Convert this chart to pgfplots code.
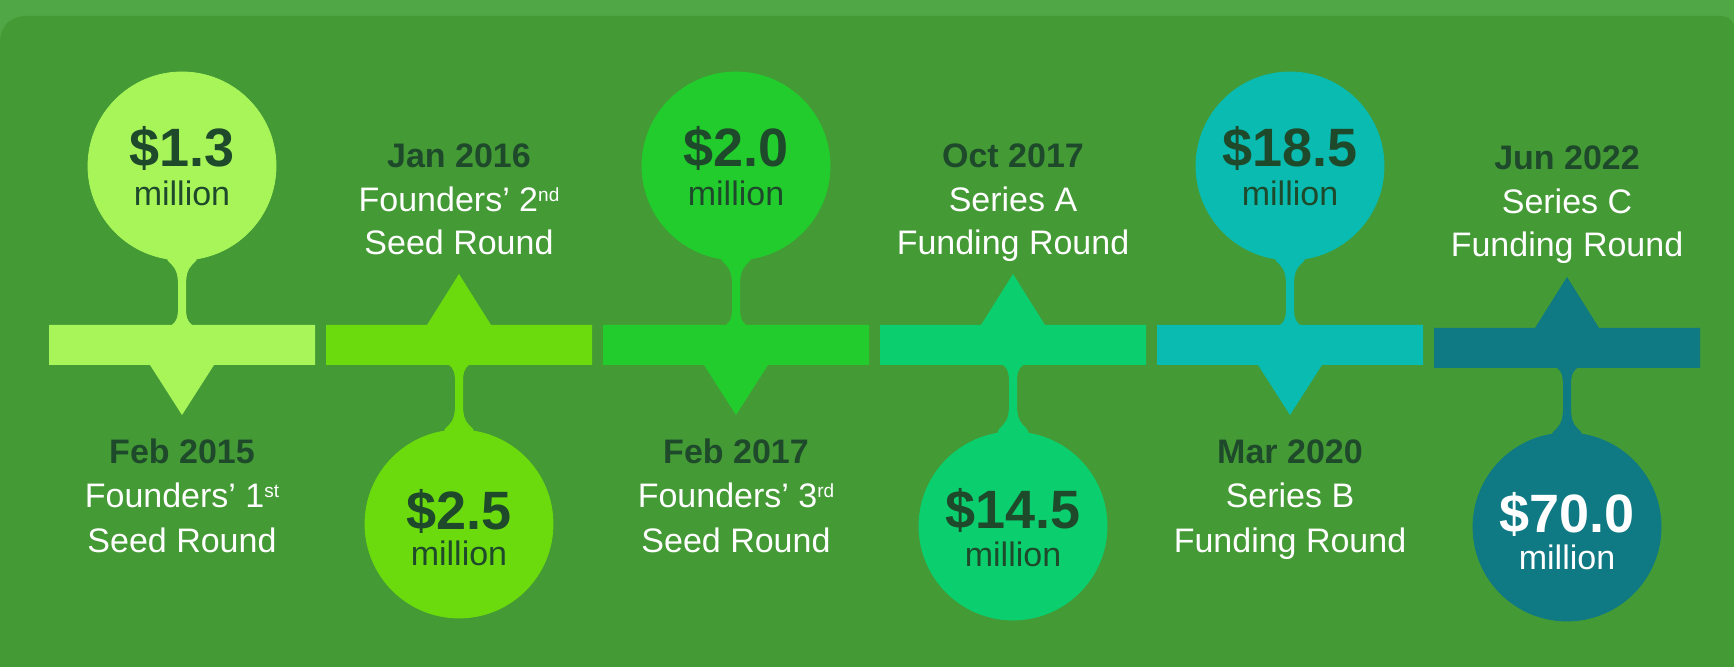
\documentclass[border=0pt]{standalone}
\usepackage{pgfplots}
\pgfplotsset{compat=1.18}
\usepackage{pgfplotstable}
\usepackage{fontspec}
\setmainfont{Liberation Sans}

\definecolor{outer}{HTML}{50A745}
\definecolor{panel}{HTML}{449A35}
\definecolor{dark}{HTML}{1E4A2B}
\definecolor{c1}{HTML}{A8F55A}
\definecolor{c2}{HTML}{6CDB0E}
\definecolor{c3}{HTML}{22CC2D}
\definecolor{c4}{HTML}{0BCF6E}
\definecolor{c5}{HTML}{09BBB1}
\definecolor{c6}{HTML}{0F7A84}

% neck between bubble and bar, offsets from the bubble centre line (px)
\pgfplotstableread{
dx y
-18 250
-16 256
-14 261
-10 265
-7 269
-5 274
-4 281
-4 312
-5 318
-7 322
-10 325
-10 328
10 328
10 325
7 322
5 318
4 312
4 281
5 274
7 269
10 265
14 261
16 256
18 250
}\neck

\newcommand{\val}[4]{\node[anchor=base,text=#4,font=\fontsize{27}{30}\selectfont\bfseries] at (axis cs:#1,#2) {\$#3};}
\newcommand{\mil}[3]{\node[anchor=base,text=#3,font=\fontsize{17}{20}\selectfont] at (axis cs:#1,#2) {million};}
\newcommand{\lbl}[7]{%
  \node[anchor=base,text=dark,font=\fontsize{17}{20}\selectfont\bfseries] at (axis cs:#1,#2) {#5};
  \node[anchor=base,text=white,font=\fontsize{17}{20}\selectfont] at (axis cs:#1,#3) {#6};
  \node[anchor=base,text=white,font=\fontsize{17}{20}\selectfont] at (axis cs:#1,#4) {#7};}
\newcommand{\ordsup}[1]{\raisebox{5.3pt}{\fontsize{9.5}{10}\selectfont #1}}

\begin{document}
\begin{tikzpicture}
\begin{axis}[
    set layers,
    x=0.5pt, y=0.5pt,
    xmin=0, xmax=1734, ymin=0, ymax=667,
    y dir=reverse,
    hide axis,
    clip=false,
  ]
  % background and panel
  \addplot[fill=outer, draw=none] coordinates {(0,0)(1734,0)(1734,667)(0,667)};
  \addplot[fill=panel, draw=none] coordinates {
    (0,667)(0,40)(2,31)(7,23)(15,18)(24,16)(1722,16)(1729,18)(1734,24)(1734,667)};

  % bars with pointers
  \addplot[fill=c1, draw=none] coordinates {(49,325)(315,325)(315,365)(214,365)(182,415)(150,365)(49,365)};
  \addplot[fill=c2, draw=none] coordinates {(326,365)(326,325)(427,325)(459,274)(491,325)(592,325)(592,365)};
  \addplot[fill=c3, draw=none] coordinates {(603,325)(869,325)(869,365)(768,365)(736,415)(704,365)(603,365)};
  \addplot[fill=c4, draw=none] coordinates {(880,365)(880,325)(981,325)(1013,274)(1045,325)(1146,325)(1146,365)};
  \addplot[fill=c5, draw=none] coordinates {(1157,325)(1423,325)(1423,365)(1322,365)(1290,415)(1258,365)(1157,365)};
  \addplot[fill=c6, draw=none] coordinates {(1434,368)(1434,328)(1535,328)(1567,277)(1599,328)(1700,328)(1700,368)};

  % necks
  \addplot[fill=c1, draw=none] table[x expr=\thisrow{dx}+182, y=y] {\neck};
  \addplot[fill=c2, draw=none] table[x expr=\thisrow{dx}+459, y expr=690-\thisrow{y}] {\neck};
  \addplot[fill=c3, draw=none] table[x expr=\thisrow{dx}+736, y=y] {\neck};
  \addplot[fill=c4, draw=none] table[x expr=\thisrow{dx}+1013, y expr=690-\thisrow{y}] {\neck};
  \addplot[fill=c5, draw=none] table[x expr=\thisrow{dx}+1290, y=y] {\neck};
  \addplot[fill=c6, draw=none] table[x expr=\thisrow{dx}+1567, y expr=693-\thisrow{y}] {\neck};

  % bubbles
  \addplot[only marks, mark=*, mark size=47pt, color=c1] coordinates {(182,166)};
  \addplot[only marks, mark=*, mark size=47pt, color=c2] coordinates {(459,524)};
  \addplot[only marks, mark=*, mark size=47pt, color=c3] coordinates {(736,166)};
  \addplot[only marks, mark=*, mark size=47pt, color=c4] coordinates {(1013,526)};
  \addplot[only marks, mark=*, mark size=47pt, color=c5] coordinates {(1290,166)};
  \addplot[only marks, mark=*, mark size=47pt, color=c6] coordinates {(1567,527)};

  \begin{pgfonlayer}{axis foreground}
  % amounts
  \val{182}{167}{1.3}{dark}   \mil{182}{206}{dark}
  \val{459}{530}{2.5}{dark}   \mil{459}{566}{dark}
  \val{736}{167}{2.0}{dark}   \mil{736}{206}{dark}
  \val{1013}{529}{14.5}{dark} \mil{1013}{567}{dark}
  \val{1290}{167}{18.5}{dark} \mil{1290}{206}{dark}
  \val{1567}{533}{70.0}{white} \mil{1567}{570}{white}

  % dates and round names
  \lbl{182}{464}{508}{553}{Feb 2015}{Founders’ 1\ordsup{st}}{Seed Round}
  \lbl{459}{168}{212}{255}{Jan 2016}{Founders’ 2\ordsup{nd}}{Seed Round}
  \lbl{736}{464}{508}{553}{Feb 2017}{Founders’ 3\ordsup{rd}}{Seed Round}
  \lbl{1013}{168}{212}{255}{Oct 2017}{Series A}{Funding Round}
  \lbl{1290}{464}{508}{553}{Mar 2020}{Series B}{Funding Round}
  \lbl{1567}{170}{214}{257}{Jun 2022}{Series C}{Funding Round}
  \end{pgfonlayer}
\end{axis}
\end{tikzpicture}
\end{document}
